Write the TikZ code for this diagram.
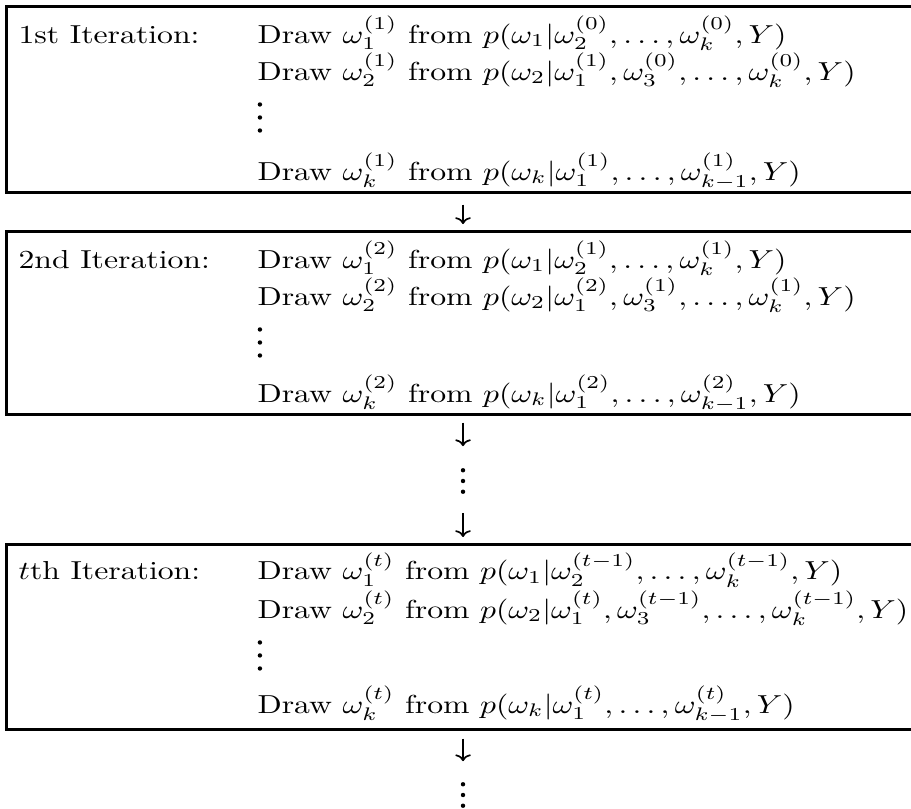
\documentclass[tikz,border=0pt]{standalone}
\usepackage{amsmath}
\usepackage{graphicx}
\usepackage{tikz}
\usetikzlibrary{arrows.meta,calc,positioning}

% the printed text is set wide
\newcommand{\wide}[1]{\scalebox{1.22}[1]{#1}}

\begin{document}
\begin{tikzpicture}[
    x=1cm,
    y=1cm,
    font=\normalsize,
    iterbox/.style={draw=black,line width=1pt,rectangle,inner sep=0pt,
                    minimum width=13.2cm,anchor=north west},
    row/.style={inner sep=0pt,anchor=base west},
    dotstack/.style={inner sep=0pt,minimum width=0.1cm,minimum height=0.36cm},
    flow/.style={-{To[length=2.6pt,width=6pt]},draw=black,line width=0.65pt}
]

\useasboundingbox (0,0) rectangle (12.313,-10.934);
\clip (0,0) rectangle (12.313,-10.934);

\coordinate (axis) at (6.258,0);

% the three iteration boxes
\node[iterbox,minimum height=2.514cm] (box1) at (0.068,-0.068) {};
\node[iterbox,minimum height=2.473cm] (box2) at (0.068,-3.109) {};
\node[iterbox,minimum height=2.500cm] (box3) at (0.068,-7.339) {};

% 1st iteration
\node[row] (lab1) at ($(box1.north west)+(0.176,-0.514)$) {\wide{1st Iteration:}};
\node[row] (d11) at ($(box1.north west)+(3.406,-0.514)$)
    {\wide{Draw $\omega_1^{(1)}$ from $p(\omega_1|\omega_2^{(0)},\ldots,\omega_k^{(0)},Y)$}};
\node[row] (d12) at ($(box1.north west)+(3.406,-1.014)$)
    {\wide{Draw $\omega_2^{(1)}$ from $p(\omega_2|\omega_1^{(1)},\omega_3^{(0)},\ldots,\omega_k^{(0)},Y)$}};
\node[row] (d1k) at ($(box1.north west)+(3.406,-2.365)$)
    {\wide{Draw $\omega_k^{(1)}$ from $p(\omega_k|\omega_1^{(1)},\ldots,\omega_{k-1}^{(1)},Y)$}};

% 2nd iteration
\node[row] (lab2) at ($(box2.north west)+(0.176,-0.514)$) {\wide{2nd Iteration:}};
\node[row] (d21) at ($(box2.north west)+(3.406,-0.514)$)
    {\wide{Draw $\omega_1^{(2)}$ from $p(\omega_1|\omega_2^{(1)},\ldots,\omega_k^{(1)},Y)$}};
\node[row] (d22) at ($(box2.north west)+(3.406,-1.014)$)
    {\wide{Draw $\omega_2^{(2)}$ from $p(\omega_2|\omega_1^{(2)},\omega_3^{(1)},\ldots,\omega_k^{(1)},Y)$}};
\node[row] (d2k) at ($(box2.north west)+(3.406,-2.325)$)
    {\wide{Draw $\omega_k^{(2)}$ from $p(\omega_k|\omega_1^{(2)},\ldots,\omega_{k-1}^{(2)},Y)$}};

% t-th iteration
\node[row] (lab3) at ($(box3.north west)+(0.176,-0.500)$) {\wide{$t$th Iteration:}};
\node[row] (d31) at ($(box3.north west)+(3.406,-0.500)$)
    {\wide{Draw $\omega_1^{(t)}$ from $p(\omega_1|\omega_2^{(t-1)},\ldots,\omega_k^{(t-1)},Y)$}};
\node[row] (d32) at ($(box3.north west)+(3.406,-1.014)$)
    {\wide{Draw $\omega_2^{(t)}$ from $p(\omega_2|\omega_1^{(t)},\omega_3^{(t-1)},\ldots,\omega_k^{(t-1)},Y)$}};
\node[row] (d3k) at ($(box3.north west)+(3.406,-2.298)$)
    {\wide{Draw $\omega_k^{(t)}$ from $p(\omega_k|\omega_1^{(t)},\ldots,\omega_{k-1}^{(t)},Y)$}};

% vertical dots inside the boxes
\foreach \b in {box1,box2,box3}
  \foreach \d in {-1,0,1}
    \fill ($(\b.north west)+(3.445,-1.52)+(0,\d*0.176)$) circle (0.85pt);

% dots between and after the boxes
\node[dotstack] (gap1) at (6.258,-6.501) {};
\node[dotstack] (gap2) at (6.258,-10.745) {};
\foreach \g in {gap1,gap2}
  \foreach \d in {-1,0,1}
    \fill ($(\g.center)+(0,\d*0.145)$) circle (0.85pt);

% arrows
\draw[flow,shorten <=0.149cm,shorten >=0.081cm] (box1.south -| axis) -- (box2.north -| axis);
\draw[flow,shorten <=0.095cm,shorten >=0.284cm] (box2.south -| axis) -- (gap1.north);
\draw[flow,shorten <=0.243cm,shorten >=0.081cm] (gap1.south) -- (box3.north -| axis);
\draw[flow,shorten <=0.110cm,shorten >=0.270cm] (box3.south -| axis) -- (gap2.north);

\end{tikzpicture}
\end{document}
